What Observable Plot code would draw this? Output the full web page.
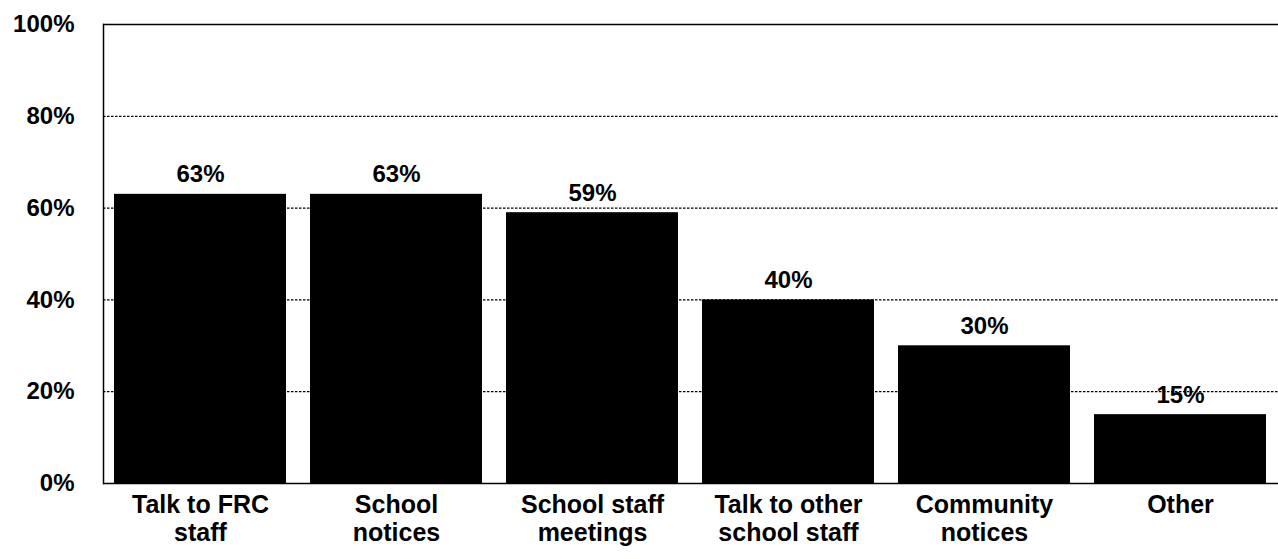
<!DOCTYPE html>
<html>
<head>
<meta charset="utf-8">
<script src="https://cdn.jsdelivr.net/npm/d3@7"></script>
<script src="https://cdn.jsdelivr.net/npm/@observablehq/plot@0.6"></script>
<style>
  html, body { margin: 0; padding: 0; background: white; }
</style>
</head>
<body>
<div id="chart"></div>
<script>
const categories = ["Talk to FRC\nstaff", "School\nnotices", "School staff\nmeetings", "Talk to other\nschool staff", "Community\nnotices", "Other"];
const values = [63, 63, 59, 40, 30, 15];
const yTicks = [0, 20, 40, 60, 80, 100];
const gridTicks = [20, 40, 60, 80];

const data = categories.map((c, i) => ({cat: c, value: values[i]}));

const chart = Plot.plot({
  width: 1278,
  height: 559,
  marginLeft: 103,
  marginRight: 0,
  marginTop: 24,
  marginBottom: 76,
  style: {fontFamily: "'Liberation Sans', Arial, sans-serif", fontWeight: "bold", background: "white", color: "black"},
  x: {domain: categories, paddingInner: 0.12, paddingOuter: 0.045},
  y: {domain: [0, 100]},
  marks: [
    Plot.ruleY(gridTicks, {stroke: "black", strokeDasharray: "2.5,1.5", strokeWidth: 1.2}),
    Plot.barY(data, {x: "cat", y: "value", fill: "black"}),
    Plot.text(data, {x: "cat", y: "value", text: d => d.value + "%", dy: -12, lineAnchor: "bottom", fontSize: 24, fontWeight: "bold", fill: "black"}),
    Plot.ruleY([100], {stroke: "black", strokeWidth: 1.5}),
    Plot.ruleY([0], {stroke: "black", strokeWidth: 1.5}),
    Plot.frame({anchor: "left", stroke: "black", strokeWidth: 1.5}),
    Plot.axisY({ticks: yTicks, tickFormat: d => d + "%", tickSize: 0, tickPadding: 29, fontSize: 24, fontWeight: "bold", label: null}),
    Plot.axisX({tickSize: 0, tickPadding: 10, fontSize: 25, fontWeight: "bold", label: null, lineHeight: 1.12})
  ]
});
document.getElementById("chart").appendChild(chart);
</script>
</body>
</html>
